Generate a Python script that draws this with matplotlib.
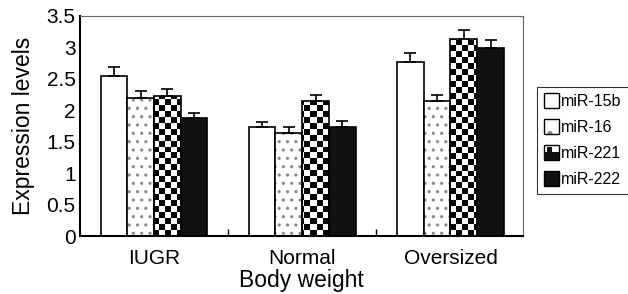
import numpy as np
import matplotlib
matplotlib.use('Agg')
import matplotlib.pyplot as plt
from matplotlib.patches import Rectangle
from matplotlib.legend_handler import HandlerBase

plt.rcParams['font.family'] = ['Liberation Sans', 'DejaVu Sans']
plt.rcParams['hatch.linewidth'] = 1.1

groups = ['IUGR', 'Normal', 'Oversized']
series = ['miR-15b', 'miR-16', 'miR-221', 'miR-222']
values = [
    [2.55, 1.73, 2.77],   # miR-15b
    [2.20, 1.64, 2.14],   # miR-16
    [2.22, 2.14, 3.13],   # miR-221
    [1.87, 1.74, 2.99],   # miR-222
]
errors = [
    [0.13, 0.09, 0.14],
    [0.11, 0.10, 0.11],
    [0.12, 0.10, 0.14],
    [0.08, 0.09, 0.13],
]
yticks = [0, 0.5, 1, 1.5, 2, 2.5, 3, 3.5]
ytick_labels = ['0', '0.5', '1', '1.5', '2', '2.5', '3', '3.5']

fig = plt.figure(figsize=(6.28, 2.94), dpi=100)
ax = fig.add_axes([0.127, 0.197, 0.706, 0.749])

x = np.arange(len(groups))
w = 0.18
xlim = (-0.5, 2.49)
ylim = (0, 3.5)

# checkerboard used for miR-221 (clipped to each bar)
sq_x, sq_y = 0.041, 0.096
nx = int(np.ceil((xlim[1] - xlim[0]) / sq_x))
ny = int(np.ceil((ylim[1] - ylim[0]) / sq_y))
checker = (np.add.outer(np.arange(ny), np.arange(nx)) % 2).astype(float)

for i, name in enumerate(series):
    pos = x + (i - 1.5) * w
    vals = values[i]
    if i == 0:
        ax.bar(pos, vals, w, color='white', edgecolor='black', linewidth=1.2, zorder=2)
    elif i == 1:
        ax.bar(pos, vals, w, color='white', edgecolor='#8a8a8a', linewidth=0, hatch='..', zorder=2)
        ax.bar(pos, vals, w, color='none', edgecolor='black', linewidth=1.2, zorder=3)
    elif i == 2:
        bars = ax.bar(pos, vals, w, color='none', edgecolor='black', linewidth=1.2, zorder=3)
        for b in bars:
            img = ax.imshow(checker, cmap='gray', extent=(xlim[0], xlim[1], ylim[0], ylim[1]),
                            origin='lower', aspect='auto', interpolation='nearest', zorder=2)
            img.set_clip_path(b)
    else:
        ax.bar(pos, vals, w, color='#111111', edgecolor='black', linewidth=1.2, zorder=2)
    ax.errorbar(pos, vals, yerr=[np.zeros(len(vals)), errors[i]], fmt='none',
                ecolor='black', elinewidth=1.2, capsize=4, capthick=1.2, zorder=4)

ax.set_xlim(*xlim)
ax.set_ylim(*ylim)
ax.set_yticks(yticks)
ax.set_yticklabels(ytick_labels)
ax.set_xticks(x)
ax.set_xticklabels(groups)
ax.set_xticks([0.5, 1.5], minor=True)
ax.tick_params(axis='x', which='major', length=0, labelsize=15, pad=9)
ax.tick_params(axis='x', which='minor', direction='in', length=5, width=1)
ax.tick_params(axis='y', length=0, labelsize=15, pad=3)
ax.set_xlabel('Body weight', fontsize=16.5, labelpad=1)
ax.set_ylabel('Expression levels', fontsize=16.5, labelpad=8)
for s in ['left', 'bottom']:
    ax.spines[s].set_linewidth(1.5)
for s in ['top', 'right']:
    ax.spines[s].set_color('#666666')
    ax.spines[s].set_linewidth(0.8)


class Handler(HandlerBase):
    def __init__(self, kind):
        super().__init__()
        self.kind = kind

    def create_artists(self, legend, orig_handle, xd, yd, width, height, fontsize, trans):
        s = min(width, height * 1.4)
        x0, y0 = xd + (width - s) / 2, yd + (height - s) / 2
        arts = []
        if self.kind == 3:
            arts.append(Rectangle((x0, y0), s, s, facecolor='#111111', edgecolor='black', lw=1))
        elif self.kind == 2:
            arts.append(Rectangle((x0, y0), s, s, facecolor='white', edgecolor='black', lw=1))
            arts.append(Rectangle((x0, y0), s, s * 0.55, facecolor='#111111', edgecolor='none'))
            arts.append(Rectangle((x0 + s * 0.2, y0 + s * 0.55), s * 0.35, s * 0.3,
                                  facecolor='#111111', edgecolor='none'))
        elif self.kind == 1:
            arts.append(Rectangle((x0, y0), s, s, facecolor='white', edgecolor='#8a8a8a',
                                  lw=0, hatch='.'))
            arts.append(Rectangle((x0, y0), s, s, facecolor='none', edgecolor='black', lw=1))
        else:
            arts.append(Rectangle((x0, y0), s, s, facecolor='white', edgecolor='black', lw=1))
        for a in arts:
            a.set_transform(trans)
        return arts


handles = [Rectangle((0, 0), 1, 1) for _ in series]
leg = fig.legend(handles, series, handler_map={h: Handler(k) for k, h in enumerate(handles)},
                 loc='upper left', bbox_to_anchor=(0.855, 0.704), fontsize=11.5,
                 frameon=True, fancybox=False, edgecolor='black', handlelength=0.95,
                 handletextpad=0.12, labelspacing=0.68, borderpad=0.45, borderaxespad=0)
leg.get_frame().set_linewidth(0.8)

fig.savefig('out.png', dpi=100)
